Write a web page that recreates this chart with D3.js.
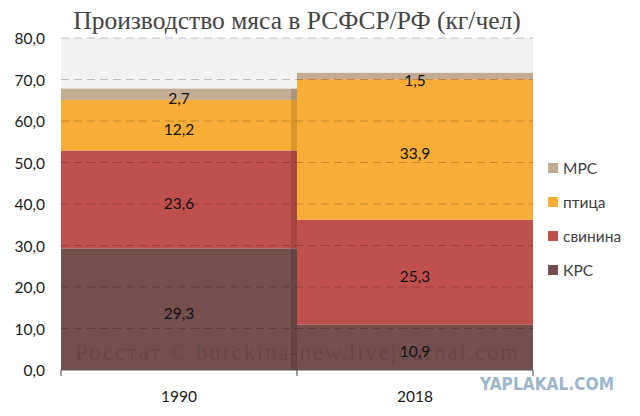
<!DOCTYPE html>
<html>
<head>
<meta charset="utf-8">
<script src="https://d3js.org/d3.v7.min.js"></script>
<style>
body { margin: 0; background: #fff; }
svg { display: block; }
.tick-lbl { font-family: Lato, "Open Sans", sans-serif; font-size: 15.5px; fill: #1a1a1a; }
</style>
</head>
<body>
<svg id="chart" width="640" height="416"></svg>
<script>
// data
var years = ["1990", "2018"];
var kinds = ["КРС", "свинина", "птица", "МРС"];
var krs     = [29.3, 10.9];
var svinina = [23.6, 25.3];
var ptica   = [12.2, 33.9];
var mrs     = [2.7, 1.5];
var yTicks  = [0, 10, 20, 30, 40, 50, 60, 70, 80];
var colors  = ["#73504e", "#c0504d", "#f8ad37", "#c4ab94"];

var rows = years.map((y, i) => ({year: y, "КРС": krs[i], "свинина": svinina[i], "птица": ptica[i], "МРС": mrs[i]}));
var stacked = d3.stack().keys(kinds)(rows);

var svg = d3.select("#chart");
var pLeft = 61, pRight = 533, pTop = 38, pBottom = 370;

var x = d3.scaleBand().domain(years).range([pLeft, pRight]).padding(0);
var y = d3.scaleLinear().domain([0, 80]).range([pBottom, pTop]);
var color = d3.scaleOrdinal(kinds, colors);
var fmt = v => d3.format(".1f")(v).replace(".", ",");

// title
svg.append("text")
  .attr("x", 297).attr("y", 29)
  .attr("text-anchor", "middle")
  .style("font-family", "'Liberation Serif', 'DejaVu Serif', serif")
  .style("font-size", "25.5px")
  .style("fill", "#444")
  .text("Производство мяса в РСФСР/РФ (кг/чел)");

// plot background
svg.append("rect")
  .attr("x", pLeft).attr("y", y(80))
  .attr("width", pRight - pLeft).attr("height", y(0) - y(80))
  .attr("fill", "#f2f2f2");

// bars
svg.append("g").selectAll("g")
  .data(stacked).join("g")
  .attr("fill", d => color(d.key))
  .selectAll("rect")
  .data(d => d).join("rect")
  .attr("x", d => x(d.data.year))
  .attr("y", d => y(d[1]))
  .attr("height", d => y(d[0]) - y(d[1]))
  .attr("width", x.bandwidth());

// shaded edge on the right side of the first bar
var tot0 = d3.sum(kinds, k => rows[0][k]);
svg.append("rect")
  .attr("x", x(years[0]) + x.bandwidth() - 6)
  .attr("y", y(tot0))
  .attr("width", 6)
  .attr("height", y(0) - y(tot0))
  .attr("fill", "#000").attr("opacity", 0.13);

// dashed grid on top
svg.append("g").selectAll("line")
  .data(yTicks.slice(1)).join("line")
  .attr("x1", pLeft).attr("x2", pRight)
  .attr("y1", d => y(d)).attr("y2", d => y(d))
  .attr("stroke", "rgba(0,0,0,0.22)")
  .attr("stroke-width", 1)
  .attr("stroke-dasharray", "8,5");

// watermark
svg.append("text")
  .attr("x", 75).attr("y", 360)
  .attr("textLength", 443)
  .style("font-family", "'Liberation Serif', serif")
  .style("font-size", "23px")
  .style("fill", "rgba(0,0,0,0.13)")
  .text("Росстат © burckina-new.livejournal.com");

// value labels
svg.append("g").selectAll("g")
  .data(stacked).join("g")
  .selectAll("text")
  .data(d => d).join("text")
  .attr("x", d => x(d.data.year) + x.bandwidth() / 2)
  .attr("y", d => (y(d[0]) + y(d[1])) / 2 + 4)
  .attr("text-anchor", "middle")
  .attr("dominant-baseline", "central")
  .attr("class", "tick-lbl")
  .style("fill", "#111")
  .text(d => fmt(d[1] - d[0]));

// y axis labels
svg.append("g").selectAll("text")
  .data(yTicks).join("text")
  .attr("x", 45).attr("y", d => y(d))
  .attr("text-anchor", "end")
  .attr("dominant-baseline", "central")
  .attr("class", "tick-lbl")
  .text(d => fmt(d));

// x axis
var xa = svg.append("g");
xa.append("line")
  .attr("x1", pLeft).attr("x2", pRight)
  .attr("y1", pBottom).attr("y2", pBottom)
  .attr("stroke", "#595959");
xa.selectAll("line.t")
  .data(years.map(d => x(d)).concat([pRight])).join("line")
  .attr("class", "t")
  .attr("x1", d => d).attr("x2", d => d)
  .attr("y1", pBottom).attr("y2", pBottom + 6)
  .attr("stroke", "#404040");
xa.selectAll("text")
  .data(years).join("text")
  .attr("x", d => x(d) + x.bandwidth() / 2)
  .attr("y", 396)
  .attr("text-anchor", "middle")
  .attr("dominant-baseline", "central")
  .attr("class", "tick-lbl")
  .text(d => d);

// legend
var legend = svg.append("g").selectAll("g")
  .data(kinds.slice().reverse()).join("g")
  .attr("transform", (d, i) => "translate(548," + (168 + i * 34) + ")");
legend.append("rect")
  .attr("x", 0).attr("y", -5).attr("width", 10).attr("height", 10)
  .attr("fill", d => color(d));
legend.append("text")
  .attr("x", 15).attr("y", 0)
  .attr("dominant-baseline", "central")
  .attr("class", "tick-lbl")
  .style("fill", "#404040")
  .text(d => d);

// site mark
svg.append("text")
  .attr("x", 480).attr("y", 384)
  .attr("dominant-baseline", "central")
  .attr("textLength", 134)
  .attr("lengthAdjust", "spacingAndGlyphs")
  .style("font-family", "'DejaVu Sans', sans-serif")
  .style("font-weight", "bold")
  .style("font-size", "17px")
  .style("fill", "#9db6cc")
  .text("YAPLAKAL.COM");
</script>
</body>
</html>
